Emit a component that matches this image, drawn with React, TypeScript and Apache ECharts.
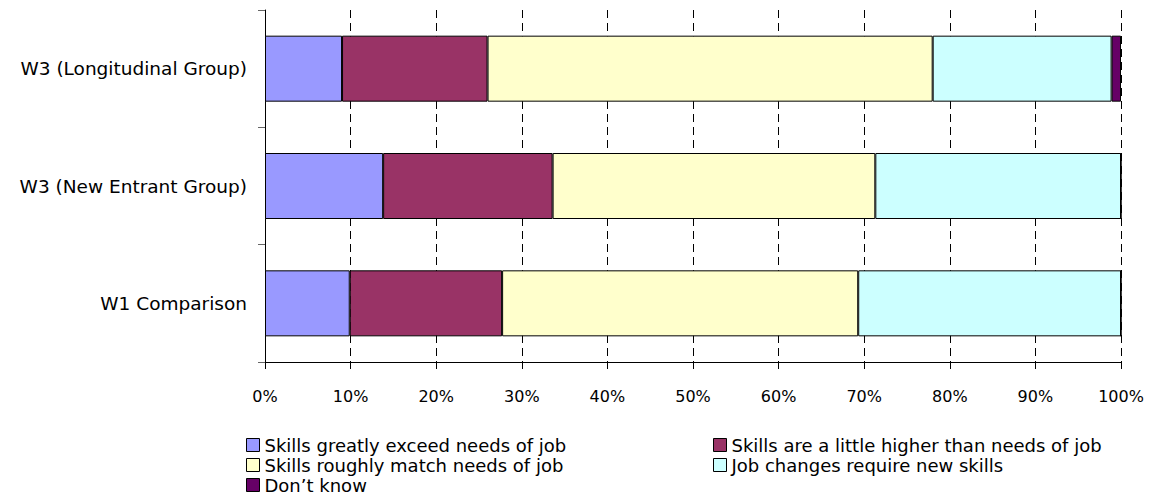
import React, { useEffect, useRef } from "react";
import * as echarts from "echarts";

const categories = ["W1 Comparison", "W3 (New Entrant Group)", "W3 (Longitudinal Group)"];
const seriesNames = [
  "Skills greatly exceed needs of job",
  "Skills are a little higher than needs of job",
  "Skills roughly match needs of job",
  "Job changes require new skills",
  "Don\u2019t know",
];
const greatlyExceed = [9.9, 13.8, 9.0];
const littleHigher = [17.8, 19.8, 17.0];
const roughlyMatch = [41.6, 37.7, 52.0];
const jobChanges = [30.7, 28.7, 20.9];
const dontKnow = [0, 0, 1.1];
const colors = ["#9999FF", "#993366", "#FFFFCC", "#CCFFFF", "#660066"];

const FONT = "DejaVu Sans, Verdana, sans-serif";

export default function App() {
  const ref = useRef<HTMLDivElement>(null);
  useEffect(() => {
    if (!ref.current) return;
    const chart = echarts.init(ref.current, null, { renderer: "svg" });
    const values = [greatlyExceed, littleHigher, roughlyMatch, jobChanges, dontKnow];
    const legendPos = [
      { left: 246, top: 436 },
      { left: 713, top: 436 },
      { left: 246, top: 456 },
      { left: 713, top: 456 },
      { left: 246, top: 476 },
    ];
    chart.setOption({
      animation: false,
      backgroundColor: "#ffffff",
      grid: { left: 265, right: 29, top: 10, bottom: 133, containLabel: false },
      xAxis: {
        type: "value",
        min: 0,
        max: 100,
        interval: 10,
        axisLine: { show: true, lineStyle: { color: "#000", width: 1 } },
        axisTick: { show: true, length: 7, lineStyle: { color: "#000" } },
        axisLabel: {
          formatter: "{value}%",
          color: "#000",
          fontFamily: FONT,
          fontSize: 16,
          margin: 26,
        },
        splitLine: {
          show: true,
          lineStyle: { color: "#000", type: [8, 5], width: 1 },
        },
      },
      yAxis: {
        type: "category",
        data: categories,
        axisLine: { show: true, lineStyle: { color: "#000", width: 1 } },
        axisTick: { show: true, length: 7, lineStyle: { color: "#666" } },
        axisLabel: {
          color: "#000",
          fontFamily: FONT,
          fontSize: 18.5,
          margin: 18,
        },
        splitLine: { show: false },
      },
      legend: seriesNames.map((n, i) => ({
        data: [n],
        left: legendPos[i].left,
        top: legendPos[i].top,
        orient: "horizontal",
        icon: "rect",
        itemWidth: 13,
        itemHeight: 13,
        itemGap: 4,
        padding: 0,
        selectedMode: false,
        itemStyle: { borderColor: "#000", borderWidth: 1 },
        textStyle: { color: "#000", fontFamily: FONT, fontSize: 18, lineHeight: 18 },
      })),
      series: seriesNames.map((n, i) => ({
        name: n,
        type: "bar",
        stack: "total",
        data: values[i],
        barWidth: 66,
        itemStyle: { color: colors[i], borderColor: "#000", borderWidth: 1 },
      })),
    });
    return () => chart.dispose();
  }, []);
  return (
    <div
      ref={ref}
      style={{ position: "absolute", left: 0, top: 0, width: 1150, height: 495 }}
    />
  );
}
